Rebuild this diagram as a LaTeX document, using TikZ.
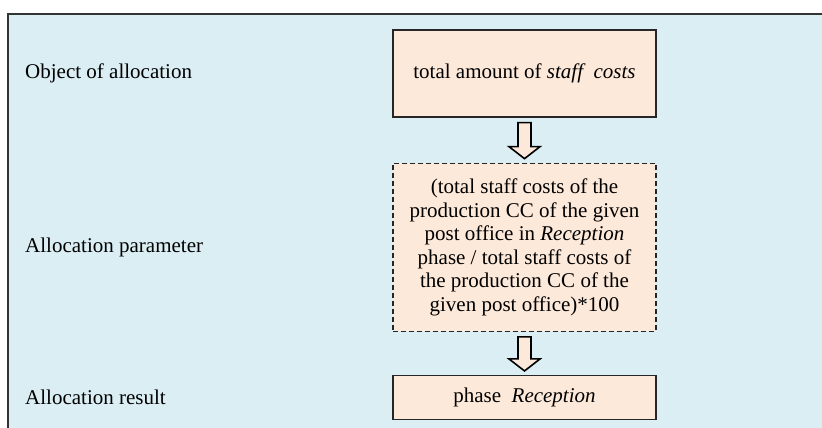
\documentclass[tikz,border=0pt]{standalone}
\usepackage{fontspec}
\setmainfont{Liberation Serif}
\usetikzlibrary{positioning,calc}
\definecolor{peach}{HTML}{FDE9D9}
\definecolor{panel}{HTML}{DAEEF3}

\begin{document}
\begin{tikzpicture}[%
    x=1pt,
    y=1pt,
    node distance=45pt,
    font=\fontsize{21}{23.5}\selectfont,
    costbox/.style={%
      rectangle,
      draw=black!85,
      line width=1.3pt,
      fill=peach,
      minimum width=263pt,
      align=center,
      inner sep=0pt
    },
    dashbox/.style={%
      costbox,
      dash pattern=on 5pt off 3pt
    },
    rowlabel/.style={anchor=west, inner sep=0pt},
    blockarrow/.style={draw=black, line width=1.6pt, fill=peach, line join=miter}
  ]
    \useasboundingbox (0,0) rectangle (822,428);
    \fill[panel] (8,0) rectangle (822,414);
    \draw[line width=2pt, black!80] (8,0) -- (8,414) -- (822,414);

    \node[costbox, minimum height=87pt] (object) at (524.5,354.5) {total amount of \textit{staff\ \ costs}};
    \node[dashbox, minimum height=168pt] (param) [below=45pt of object]
      {(total staff costs of the\\production CC of the given\\post office in \textit{Reception}\\phase / total staff costs of\\the production CC of the\\given post office)*100};
    \node[costbox, minimum height=44pt] (result) [below=43pt of param] {phase\ \ \textit{Reception}};

    \node[rowlabel] (lobject) at (25,0 |- object) {Object of allocation};
    \node[rowlabel] (lparam)  at (25,0 |- param)  {Allocation parameter};
    \node[rowlabel] (lresult) at (25,0 |- result) {Allocation result};

    \foreach \from/\to in {object/param, param/result}
      \draw[blockarrow] ($(\from.south)+(-6.5,-5)$) -- ($(\from.south)+(6.5,-5)$)
        -- ($(\to.north)+(6.5,16)$) -- ($(\to.north)+(15.5,16)$) -- ($(\to.north)+(0,4)$)
        -- ($(\to.north)+(-15.5,16)$) -- ($(\to.north)+(-6.5,16)$) -- cycle;
\end{tikzpicture}
\end{document}
